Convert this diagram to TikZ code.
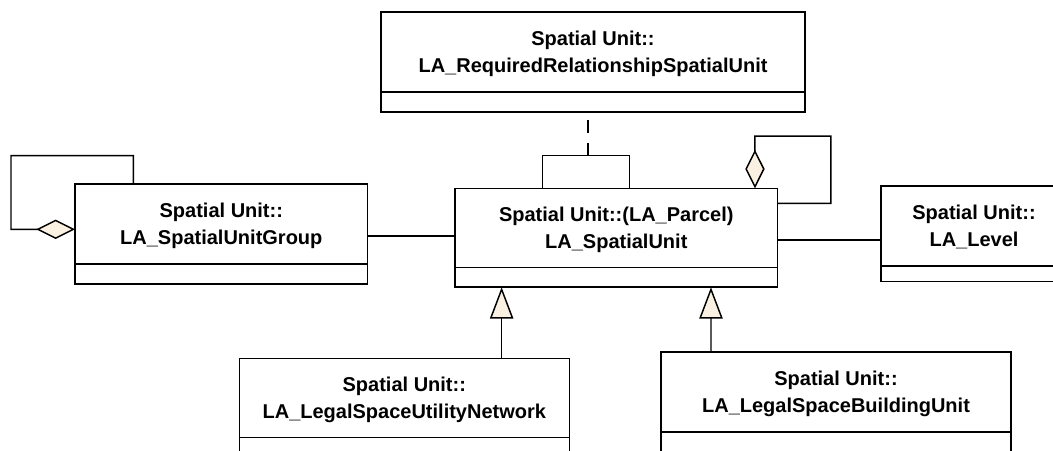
\documentclass[tikz,border=0pt]{standalone}
\usepackage{fontspec}
\setmainfont{Liberation Sans}
\usetikzlibrary{positioning,arrows.meta}
\definecolor{umlfill}{HTML}{FBF1E3}
\begin{document}
\begin{tikzpicture}[x=0.75pt,y=-0.75pt,
	classhead/.style={draw,fill=white,line width=1.2pt,outer sep=0pt,inner sep=0pt,minimum height=60pt,align=center,text depth=-2.5pt,font=\fontsize{15pt}{20pt}\selectfont\bfseries},
	classbody/.style={draw,fill=white,line width=1.2pt,outer sep=0pt,inner sep=0pt},
	umlline/.style={line width=1.1pt},
	genarrow/.style={umlline,-{Triangle[width=17.5pt,length=23.5pt,fill=umlfill]}},
	aggr/.style={umlline,-{Diamond[width=14.5pt,length=29pt,fill=umlfill]}}]
	\useasboundingbox (0,0) rectangle (1053,450);
	\clip (0,0) rectangle (1053,450);
	\fill[white] (0,0) rectangle (1053,450);
	\node[classhead,minimum width=318pt] (req) at (593,51.7) {Spatial Unit::\\LA\_RequiredRelationshipSpatialUnit};
	\node[classbody,minimum width=318pt,minimum height=15pt,below=0pt of req] (reqbody) {};
	\node[classhead,minimum width=242pt,minimum height=59.5pt] (su) at (616.3,228) {Spatial Unit::(LA\_Parcel)\\LA\_SpatialUnit};
	\node[classbody,minimum width=242pt,minimum height=14.7pt,below=0pt of su] (subody) {};
	\node[classhead,minimum width=219.5pt] (grp) at (221.3,224) {Spatial Unit::\\LA\_SpatialUnitGroup};
	\node[classbody,minimum width=219.5pt,minimum height=15pt,below=0pt of grp] (grpbody) {};
	\node[classhead,minimum width=139.5pt] (lvl) at (974,225.8) {Spatial Unit::\\LA\_Level};
	\node[classbody,minimum width=139.5pt,minimum height=11.8pt,below=0pt of lvl] (lvlbody) {};
	\node[classhead,minimum width=247.5pt,minimum height=59.25pt] (net) at (404.3,397.8) {Spatial Unit::\\LA\_LegalSpaceUtilityNetwork};
	\node[classbody,minimum width=247.5pt,minimum height=24pt,below=0pt of net] (netbody) {};
	\node[classhead,minimum width=262.5pt] (bld) at (836,391.7) {Spatial Unit::\\LA\_LegalSpaceBuildingUnit};
	\node[classbody,minimum width=262.5pt,minimum height=24pt,below=0pt of bld] (bldbody) {};
	\draw[umlline] ([yshift=-9pt]grp.east) -- ([yshift=-6pt]su.west);
	\coordinate (sulvl) at ([yshift=-9pt]su.east);
	\draw[umlline] (sulvl) -- (sulvl -| lvl.west);
	\draw[genarrow] ([xshift=73pt]net.north) -- ([xshift=-86pt]subody.south);
	\draw[genarrow] ([xshift=-93.75pt]bld.north) -- ([xshift=71pt]subody.south);
	\draw[umlline] ([xshift=-55.2pt]su.north) -- ++(0,-33) -| ([xshift=9.75pt]su.north);
	\coordinate (assoc) at ([xshift=-21.2pt,yshift=24.75pt]su.north);
	\draw[umlline,dash pattern=on 9.5pt off 7.5pt] (assoc) -- (assoc |- reqbody.south);
	\draw[aggr] ([yshift=18.5pt]su.east) -- ++(53.3,0) -- ++(0,-67.3) -- ++(-76,0) -- ([xshift=104pt]su.north);
	\draw[aggr] ([xshift=-66pt]grp.north) -- ++(0,-28.3) -- ++(-122.3,0) -- ++(0,73.6) -- ([yshift=-4pt]grp.west);
\end{tikzpicture}
\end{document}
